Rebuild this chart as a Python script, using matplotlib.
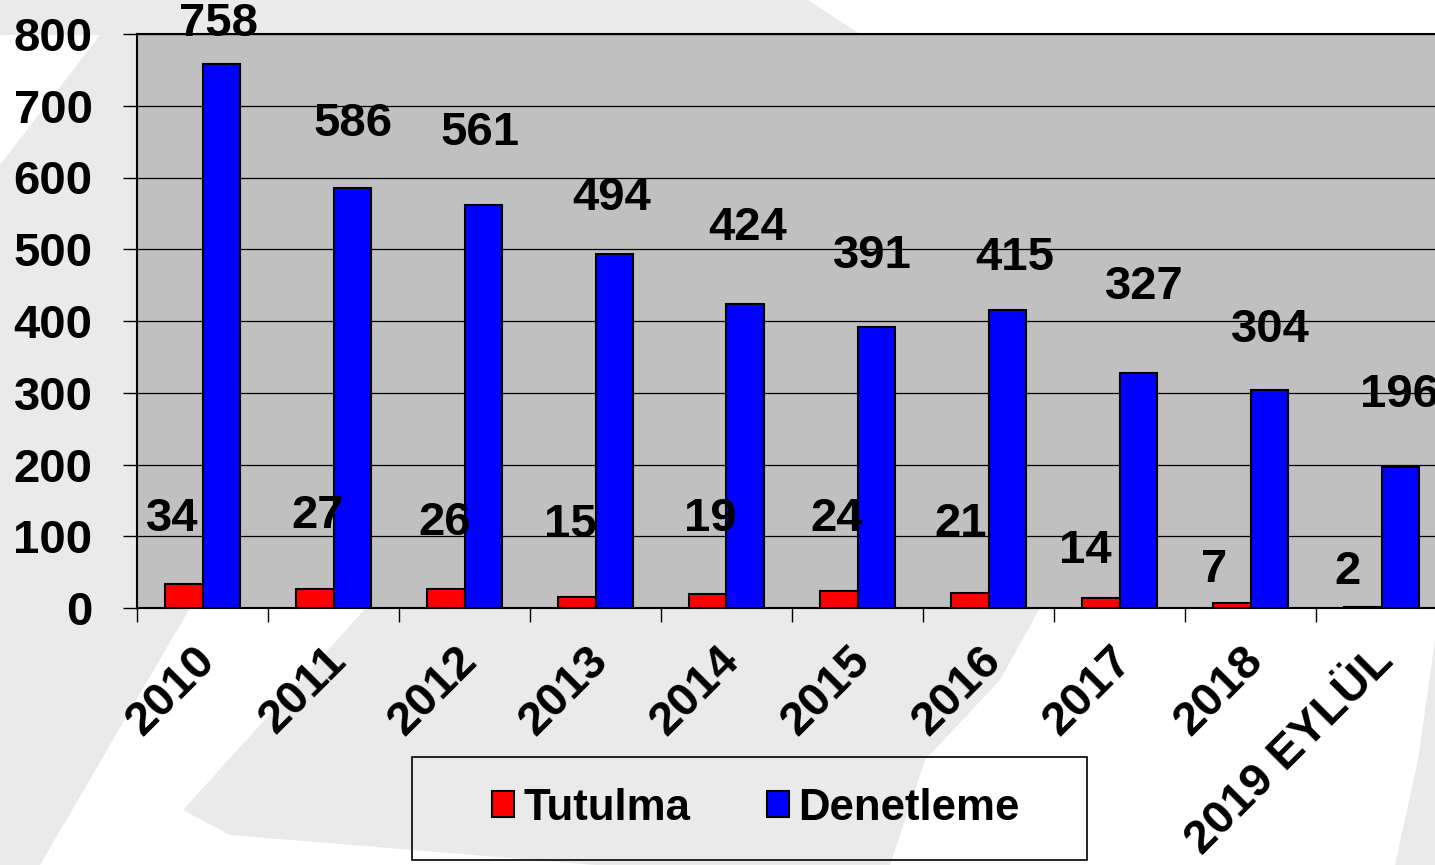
import matplotlib
matplotlib.use("Agg")
import matplotlib.pyplot as plt
from matplotlib.patches import Polygon, Rectangle
from matplotlib.transforms import ScaledTranslation
import numpy as np

plt.rcParams['font.family'] = ['Liberation Sans', 'DejaVu Sans']
plt.rcParams['font.weight'] = 'bold'

# ---------- data ----------
years = ["2010", "2011", "2012", "2013", "2014", "2015", "2016", "2017",
         "2018", "2019 EYLÜL"]
tutulma = [34, 27, 26, 15, 19, 24, 21, 14, 7, 2]
denetleme = [758, 586, 561, 494, 424, 391, 415, 327, 304, 196]

# where the value labels sit (data units / category offsets)
tut_label_y = [124, 128, 118, 116, 124, 124, 117, 79, 53, 50]
tut_label_dx = [-0.23, -0.12, -0.15, -0.19, -0.12, -0.16, -0.21, -0.26, -0.28, -0.26]
den_label_y = [814, 675, 662, 571, 530, 491, 488, 447, 387, 297]
den_label_dx = [0.12, 0.15, 0.12, 0.12, 0.16, 0.11, 0.20, 0.19, 0.15, 0.14]

W, H = 1435, 865
fig = plt.figure(figsize=(W / 100, H / 100), dpi=100)
fig.patch.set_facecolor("white")


def px(pts):
    return [(x / W, 1 - y / H) for x, y in pts]


# ---------- faint watermark background ----------
bg = "#eaeaea"
fig.add_artist(Polygon(px([(0, 0), (808, 0), (860, 34), (860, 608), (190, 608),
                           (40, 865), (0, 865)]),
                       closed=True, transform=fig.transFigure,
                       facecolor=bg, edgecolor="none", zorder=-2))
fig.add_artist(Polygon(px([(0, 35), (100, 35), (0, 165)]), closed=True,
                       transform=fig.transFigure, facecolor="white",
                       edgecolor="none", zorder=-1))
fig.add_artist(Polygon(px([(366, 608), (1040, 608), (1000, 680), (925, 760),
                           (890, 865), (595, 865), (230, 835), (183, 810)]),
                       closed=True, transform=fig.transFigure,
                       facecolor=bg, edgecolor="none", zorder=-1))
fig.add_artist(Polygon(px([(1435, 640), (1435, 865), (1395, 865), (1418, 760)]),
                       closed=True, transform=fig.transFigure,
                       facecolor=bg, edgecolor="none", zorder=-1))

# ---------- axes ----------
ax = fig.add_axes([137 / W, 1 - 608 / H, 1 - 137 / W, (608 - 34) / H])
ax.set_facecolor("#c0c0c0")

x = np.arange(len(years))
bw = 0.29
b1 = ax.bar(x - bw / 2, tutulma, bw, color="#ff0000", edgecolor="black",
            linewidth=1.5, label="Tutulma", zorder=3)
b2 = ax.bar(x + bw / 2, denetleme, bw, color="#0000ff", edgecolor="black",
            linewidth=1.5, label="Denetleme", zorder=3)

for i in range(len(years)):
    ax.text(x[i] + tut_label_dx[i], tut_label_y[i], str(tutulma[i]),
            ha="center", va="center", fontsize=34, fontweight="bold", zorder=5)
    ax.text(x[i] + den_label_dx[i], den_label_y[i], str(denetleme[i]),
            ha="center", va="center", fontsize=34, fontweight="bold", zorder=5)

ax.set_xlim(-0.5, -0.5 + (W - 137) / 131)
ax.set_ylim(0, 800)
ax.set_yticks(range(0, 801, 100))
ax.yaxis.grid(True, color="black", linewidth=0.9)
ax.set_axisbelow(True)

ax.set_xticks(x)
ax.set_xticklabels(years, rotation=45, ha="right", va="top",
                   rotation_mode="anchor")
ax.set_xticks(np.arange(len(years)) - 0.5, minor=True)
ax.tick_params(axis="x", which="major", length=0, pad=22, labelsize=34)
ax.tick_params(axis="x", which="minor", length=10, width=1, direction="out")
ax.tick_params(axis="y", length=10, width=1, direction="out", pad=22,
               labelsize=34)
shift = ScaledTranslation(-0.10, 0, fig.dpi_scale_trans)
for lab in ax.get_xticklabels():
    lab.set_fontweight("bold")
    lab.set_transform(lab.get_transform() + shift)
for lab in ax.get_yticklabels():
    lab.set_fontweight("bold")

for s in ["left", "bottom", "top"]:
    ax.spines[s].set_color("black")
    ax.spines[s].set_linewidth(1.5)
ax.spines["right"].set_visible(False)

# ---------- legend ----------
fig.add_artist(Rectangle((412 / W, 1 - 860 / H), (1087 - 412) / W, (860 - 757) / H,
                         transform=fig.transFigure, facecolor="none",
                         edgecolor="black", linewidth=1.2, zorder=4))
leg = fig.legend(handles=[b1, b2], loc="center",
                 bbox_to_anchor=(756 / W, 1 - 808 / H), ncol=2, frameon=False,
                 prop={"size": 31.5, "weight": "bold"}, handlelength=0.5,
                 handleheight=0.55, handletextpad=0.22, columnspacing=1.75)

fig.savefig("out.png", dpi=100)
